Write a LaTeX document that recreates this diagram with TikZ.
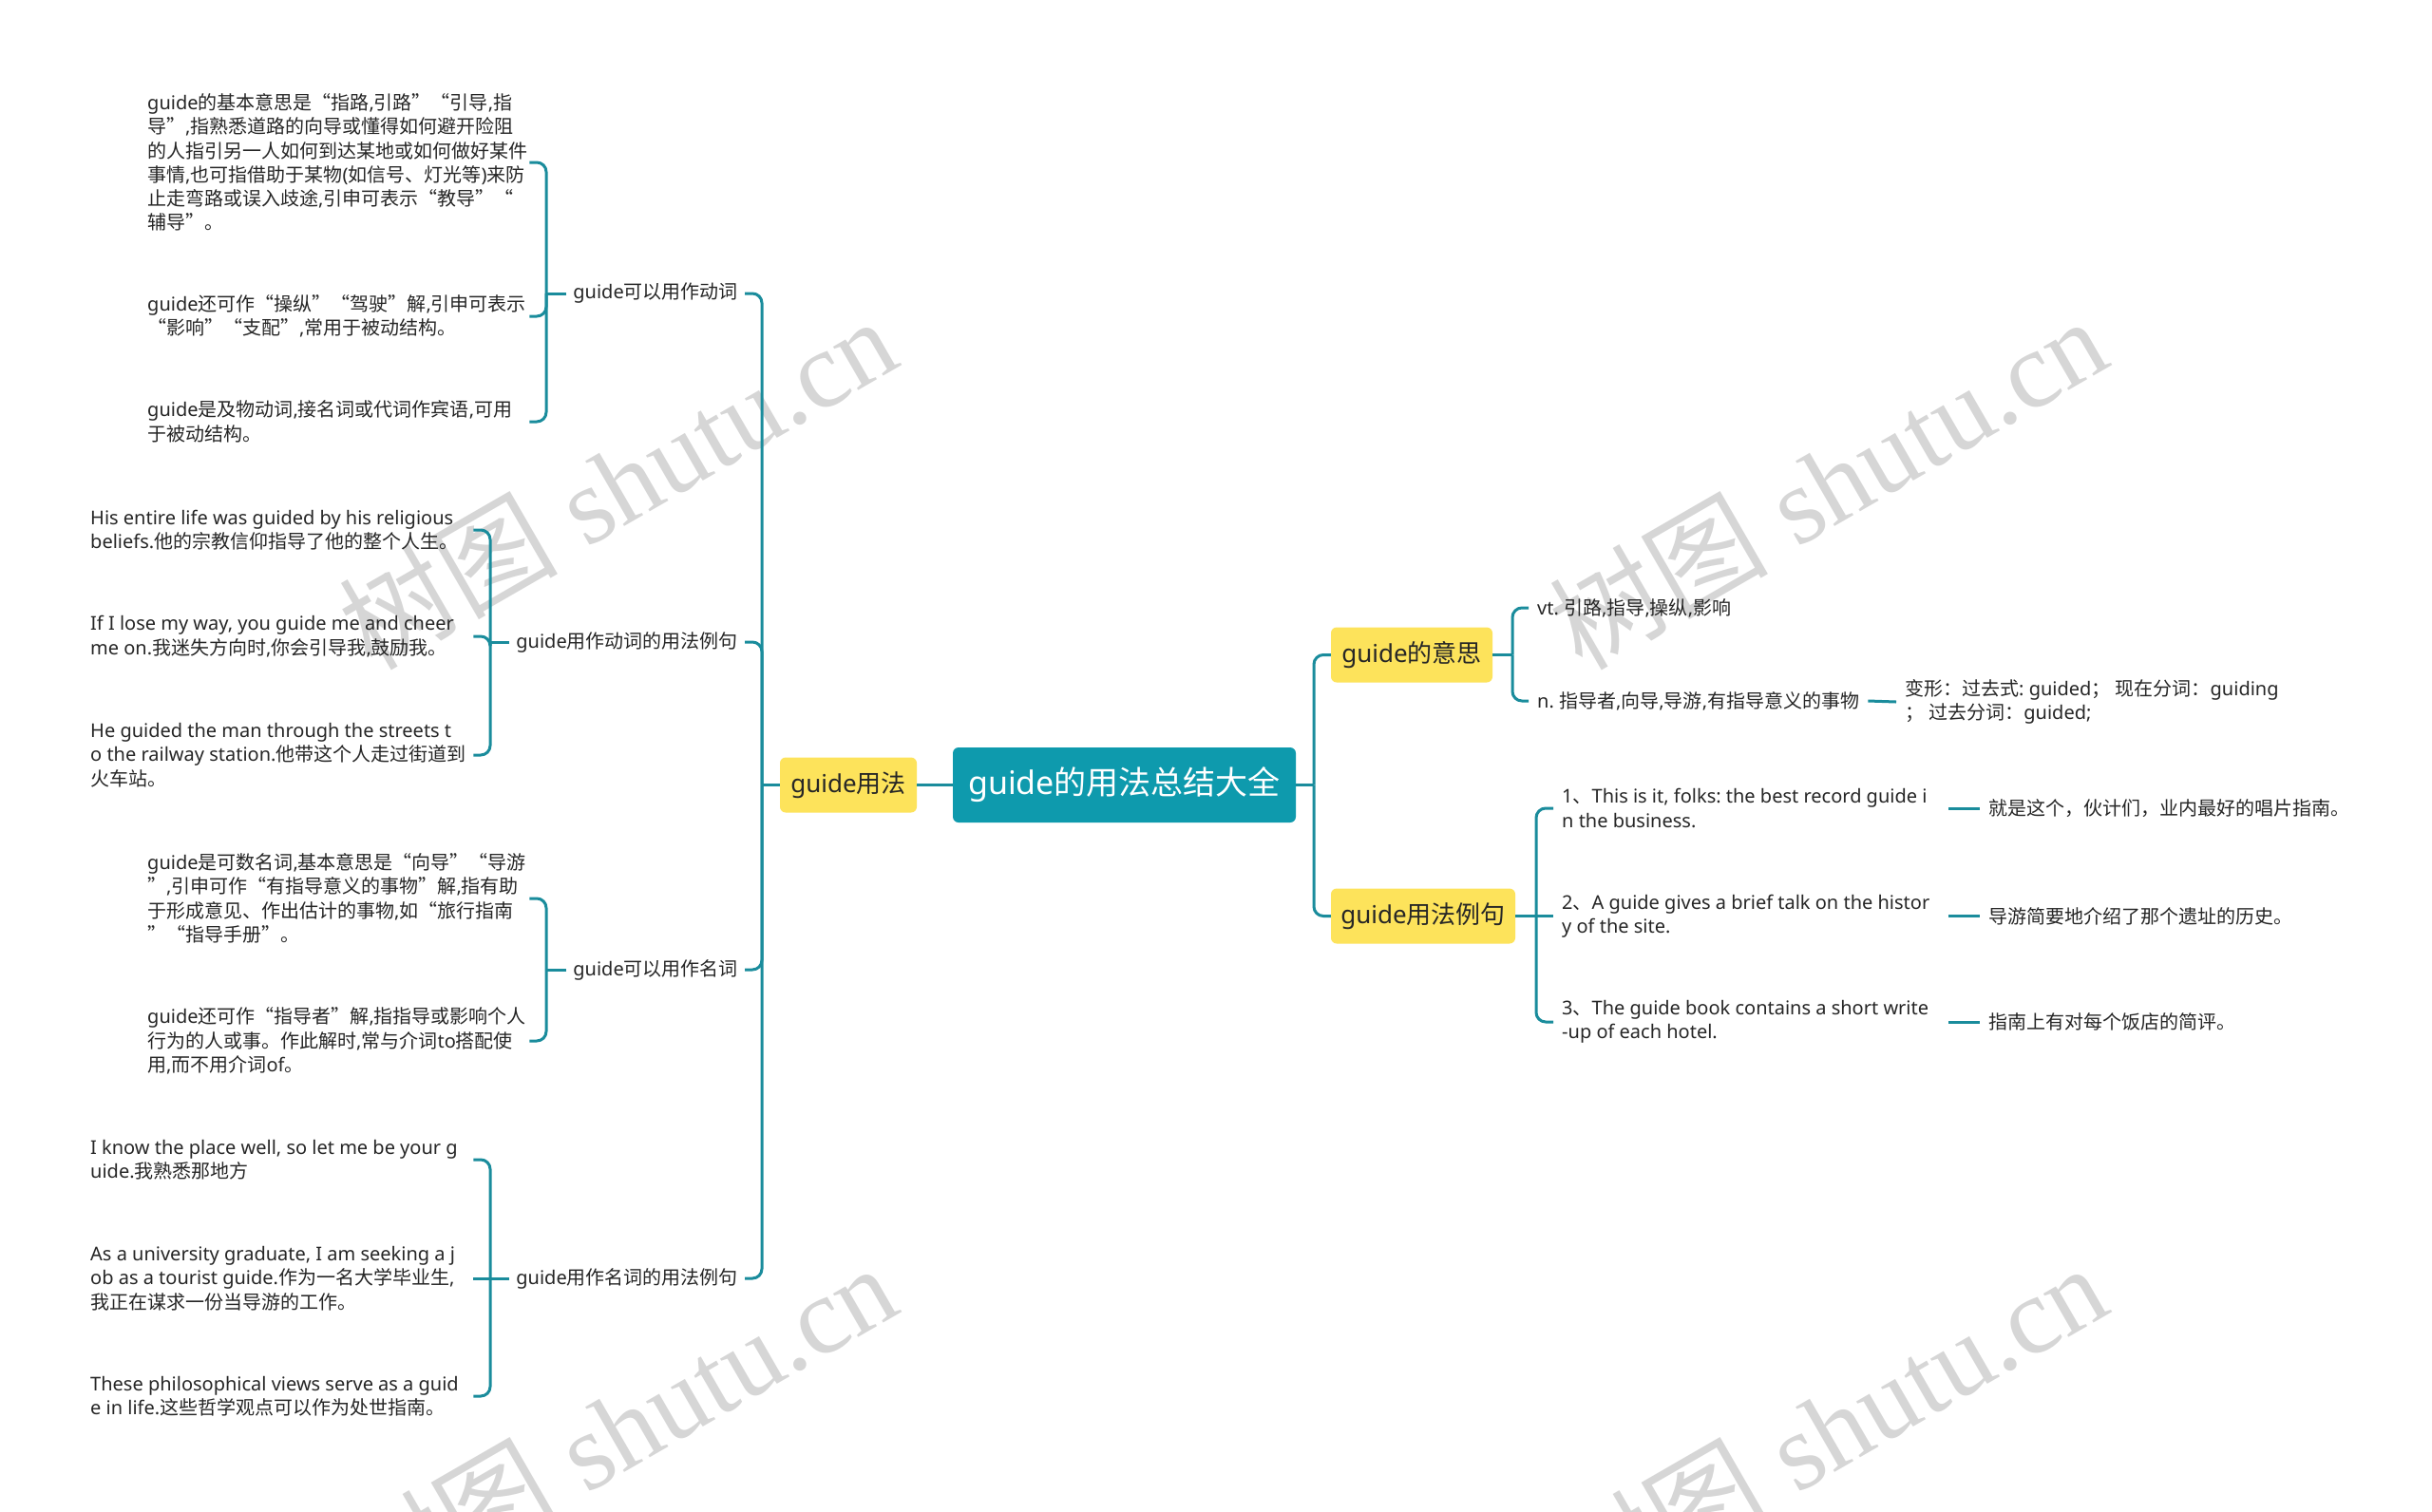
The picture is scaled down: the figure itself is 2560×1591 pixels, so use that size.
\documentclass[tikz,border=0pt]{standalone}
\usepackage{fontspec}
\setmainfont{Noto Sans}
\newfontfamily\cjkf{Noto Sans CJK SC}
\newfontfamily\wmserif{Liberation Serif}
\frenchspacing
\XeTeXinterchartokenstate=1
\newXeTeXintercharclass\cjkcls
\newcount\cjkcnt
\def\setcjkrange#1#2{\cjkcnt=#1\relax\loop\XeTeXcharclass\cjkcnt=\cjkcls\relax\ifnum\cjkcnt<#2\relax\advance\cjkcnt by 1\relax\repeat}
\setcjkrange{"4E00}{"9FFF}
\setcjkrange{"3000}{"303F}
\setcjkrange{"FF00}{"FFEF}
\XeTeXcharclass"201C=\cjkcls
\XeTeXcharclass"201D=\cjkcls
\XeTeXinterchartoks 0 \cjkcls = {\cjkf}
\XeTeXinterchartoks 4095 \cjkcls = {\cjkf}
\XeTeXinterchartoks \cjkcls 0 = {\rmfamily}
\XeTeXinterchartoks \cjkcls 4095 = {\rmfamily}
\newcommand\fixline[2]{\makebox[#1][l]{#2}}
\definecolor{lineteal}{HTML}{1A8C9C}
\definecolor{rootteal}{HTML}{0E9AAD}
\definecolor{yfill}{HTML}{FDE35B}
\definecolor{txtc}{HTML}{262626}
\definecolor{wmgray}{HTML}{D6D6D6}
\tikzset{
  conn/.style={draw=lineteal, line width=3pt, rounded corners=10pt},
  rootbox/.style={fill=rootteal, rounded corners=6pt, text=white, font=\fontsize{34}{40}\selectfont, minimum width=361pt, minimum height=79pt, inner sep=0pt},
  topicbox/.style={fill=yfill, rounded corners=6pt, text=txtc, font=\fontsize{26}{30}\selectfont, minimum height=58pt, inner sep=0pt},
  lbl/.style={text=txtc, font=\fontsize{20}{25.3}\selectfont, inner xsep=7pt, inner ysep=2pt},
  leaf/.style={text=txtc, font=\fontsize{20}{25.3}\selectfont, align=left, inner xsep=0pt, inner ysep=0pt, anchor=west},
  rleaf/.style={leaf, inner xsep=9pt},
  wmark/.style={text=wmgray, font=\fontsize{115}{115}\selectfont, rotate=30, inner sep=0pt}
}
\begin{document}
\begin{tikzpicture}[x=1pt,y=-1pt]
\useasboundingbox (0,0) rectangle (2560,1591);
\fill[white] (0,0) rectangle (2560,1591);
% watermarks
\begin{scope}
\clip (0,0) rectangle (2560,1591);
\node[wmark] (wm1) at (650,508) {树图 {\wmserif shutu.cn}};
\node[wmark] (wm2) at (1924,508) {树图 {\wmserif shutu.cn}};
\node[wmark] (wm3) at (650,1504) {树图 {\wmserif shutu.cn}};
\node[wmark] (wm4) at (1924,1504) {树图 {\wmserif shutu.cn}};
\end{scope}

% main nodes
\node[rootbox] (root) at (1183.5,826.5) {guide的用法总结大全};
\node[topicbox, minimum width=144pt] (yf) at (893,826.5) {guide用法};
\node[topicbox, minimum width=170pt] (ym) at (1486,689.5) {guide的意思};
\node[topicbox, minimum width=194pt] (ye) at (1498,964.5) {guide用法例句};

% left labels
\node[lbl, anchor=east] (l1) at (784,309) {guide可以用作动词};
\node[lbl, anchor=east] (l2) at (784,676) {guide用作动词的用法例句};
\node[lbl, anchor=east] (l3) at (784,1021) {guide可以用作名词};
\node[lbl, anchor=east] (l4) at (784,1346) {guide用作名词的用法例句};

% junctions
\coordinate (j0) at (802,826.5);
\coordinate (j1) at (575,309);
\coordinate (j2) at (516,676);
\coordinate (j3) at (575,1021);
\coordinate (j4) at (516,1346);
\coordinate (jr) at (1383,826.5);
\coordinate (jm) at (1592,689.5);
\coordinate (je) at (1617,964.5);

% group 1
\node[leaf] (a11) at (155,171) {\fixline{402pt}{guide的基本意思是“指路,引路”“引导,指}\\导”,指熟悉道路的向导或懂得如何避开险阻\\的人指引另一人如何到达某地或如何做好某件\\事情,也可指借助于某物(如信号、灯光等)来防\\止走弯路或误入歧途,引申可表示“教导”“\\辅导”。};
\node[leaf] (a12) at (155,333) {\fixline{402pt}{guide还可作“操纵”“驾驶”解,引申可表示}\\“影响”“支配”,常用于被动结构。};
\node[leaf] (a13) at (155,444) {\fixline{402pt}{guide是及物动词,接名词或代词作宾语,可用}\\于被动结构。};

% group 2
\node[leaf] (a21) at (95,558) {\fixline{403pt}{His entire life was guided by his religious}\\beliefs.他的宗教信仰指导了他的整个人生。};
\node[leaf] (a22) at (95,670) {\fixline{403pt}{If I lose my way, you guide me and cheer}\\me on.我迷失方向时,你会引导我,鼓励我。};
\node[leaf] (a23) at (95,795) {\fixline{403pt}{He guided the man through the streets t}\\o the railway station.他带这个人走过街道到\\火车站。};

% group 3
\node[leaf] (a31) at (155,946) {\fixline{402pt}{guide是可数名词,基本意思是“向导”“导游}\\”,引申可作“有指导意义的事物”解,指有助\\于形成意见、作出估计的事物,如“旅行指南\\”“指导手册”。};
\node[leaf] (a32) at (155,1096) {\fixline{402pt}{guide还可作“指导者”解,指指导或影响个人}\\行为的人或事。作此解时,常与介词to搭配使\\用,而不用介词of。};

% group 4
\node[leaf] (a41) at (95,1221) {\fixline{403pt}{I know the place well, so let me be your g}\\uide.我熟悉那地方};
\node[leaf] (a42) at (95,1346) {\fixline{403pt}{As a university graduate, I am seeking a j}\\ob as a tourist guide.作为一名大学毕业生,\\我正在谋求一份当导游的工作。};
\node[leaf] (a43) at (95,1470) {\fixline{403pt}{These philosophical views serve as a guid}\\e in life.这些哲学观点可以作为处世指南。};

% right: meaning
\node[rleaf] (m1) at (1609,640) {vt. 引路,指导,操纵,影响};
\node[rleaf] (m2) at (1609,738) {n. 指导者,向导,导游,有指导意义的事物};
\node[rleaf] (m3) at (1996,739) {变形：过去式: guided； 现在分词：guiding\\； 过去分词：guided;};

% right: examples
\node[rleaf] (e1) at (1635,851) {\fixline{398pt}{1、This is it, folks: the best record guide i}\\n the business.};
\node[rleaf] (e2) at (1635,964.5) {\fixline{398pt}{2、A guide gives a brief talk on the histor}\\y of the site.};
\node[rleaf] (e3) at (1635,1076) {\fixline{398pt}{3、The guide book contains a short write}\\-up of each hotel.};
\node[rleaf] (t1) at (2084,851) {就是这个，伙计们，业内最好的唱片指南。};
\node[rleaf] (t2) at (2084,964.5) {导游简要地介绍了那个遗址的历史。};
\node[rleaf] (t3) at (2084,1076) {指南上有对每个饭店的简评。};

% connectors
\draw[conn] (root.west) -- (yf.east);
\draw[conn] (yf.west) -- (j0);
\foreach \n in {l1,l2,l3,l4} \draw[conn] (j0) |- (\n.east);
\draw[conn] (l1.west) -- (j1);
\foreach \n in {a11,a12,a13} \draw[conn] (j1) |- (\n.east);
\draw[conn] (l2.west) -- (j2);
\foreach \n in {a21,a22,a23} \draw[conn] (j2) |- (\n.east);
\draw[conn] (l3.west) -- (j3);
\foreach \n in {a31,a32} \draw[conn] (j3) |- (\n.east);
\draw[conn] (l4.west) -- (j4);
\foreach \n in {a41,a43} \draw[conn] (j4) |- (\n.east);
\draw[conn] (j4) -- (a42.east);

\draw[conn] (root.east) -- (jr);
\draw[conn] (jr) |- (ym.west);
\draw[conn] (jr) |- (ye.west);
\draw[conn] (ym.east) -- (jm);
\draw[conn] (jm) |- (m1.west);
\draw[conn] (jm) |- (m2.west);
\draw[conn] (m2.east) -- (m3.west);
\draw[conn] (ye.east) -- (je);
\draw[conn] (je) |- (e1.west);
\draw[conn] (je) -- (e2.west);
\draw[conn] (je) |- (e3.west);
\draw[conn] (e1.east) -- (t1.west);
\draw[conn] (e2.east) -- (t2.west);
\draw[conn] (e3.east) -- (t3.west);
\end{tikzpicture}
\end{document}
